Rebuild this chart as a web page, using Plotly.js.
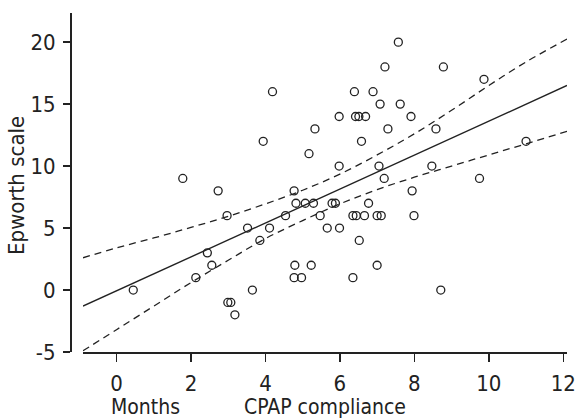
<!DOCTYPE html>
<html><head><meta charset="utf-8">
<script src="https://cdn.plot.ly/plotly-3.0.1.min.js"></script>
<style>html,body{margin:0;padding:0;background:#fff}#chart{width:578px;height:419px}</style>
</head><body><div id="chart"></div>
<script>
// Scatter data: CPAP compliance (months) vs Epworth scale
const complianceMonths = [0.45,1.78,2.13,2.44,2.56,2.73,2.97,2.99,3.07,3.18,
  3.52,3.65,3.85,3.94,4.11,4.19,4.54,4.77,4.79,4.77,
  4.82,4.97,5.07,5.17,5.23,5.29,5.33,5.47,5.66,5.79,
  5.88,5.98,5.98,5.99,6.35,6.44,6.35,6.39,6.42,6.51,
  6.52,6.58,6.66,6.69,6.77,6.89,7.0,7.11,7.0,7.05,
  7.08,7.19,7.21,7.29,7.57,7.62,7.91,7.94,7.99,8.47,
  8.58,8.71,8.78,9.75,9.87,11.0];
const epworthScore = [0,9,1,3,2,8,6,-1,-1,-2,
  5,0,4,12,5,16,6,8,2,1,
  7,1,7,11,2,7,13,6,5,7,
  7,10,14,5,6,6,1,16,14,14,
  4,12,6,14,7,16,6,6,2,10,
  15,9,18,13,20,15,14,8,6,10,
  13,0,18,9,17,12];

// Regression line and confidence band
const fitX = [-0.9, 12.1];
const fitY = [-1.3, 16.5];
const bandX = [-0.9, 0, 1, 2, 3, 4, 5, 6, 7, 8, 9, 10, 11, 12.1];
const bandUpper = [2.6, 3.4, 4.2, 5.05, 5.95, 6.95, 8.05, 9.35, 10.9, 12.6, 14.5, 16.5, 18.4, 20.25];
const bandLower = [-4.9, -3.2, -1.3, 0.6, 2.4, 4.15, 5.6, 6.95, 8.1, 9.1, 10.0, 10.9, 11.8, 12.8];

// Axis ticks and labels
const xTickVals = [0, 2, 4, 6, 8, 10, 12];
const xTickText = ["0", "2", "4", "6", "8", "10", "12"];
const yTickVals = [-5, 0, 5, 10, 15, 20];
const yTickText = ["-5", "0", "5", "10", "15", "20"];
const xTitle = "CPAP compliance";
const xUnitLabel = "Months";
const yTitle = "Epworth scale";

const ink = "#222";
const fontFam = "'DejaVu Sans Condensed', 'Liberation Sans Narrow', sans-serif";

const traces = [
  {x: bandX, y: bandUpper, type: "scatter", mode: "lines",
   line: {color: ink, width: 1.3, dash: "7px,5px", shape: "spline"}, hoverinfo: "skip"},
  {x: bandX, y: bandLower, type: "scatter", mode: "lines",
   line: {color: ink, width: 1.3, dash: "7px,5px", shape: "spline"}, hoverinfo: "skip"},
  {x: fitX, y: fitY, type: "scatter", mode: "lines",
   line: {color: ink, width: 1.4}},
  {x: complianceMonths, y: epworthScore, type: "scatter", mode: "markers",
   marker: {symbol: "circle-open", size: 8, color: ink, line: {width: 1.3, color: ink}}}
];

const layout = {
  width: 578, height: 419,
  margin: {l: 70, r: 11, t: 13, b: 67, pad: 0},
  paper_bgcolor: "#fff", plot_bgcolor: "#fff",
  showlegend: false,
  font: {family: fontFam, color: ink, size: 22},
  xaxis: {
    domain: [13/497, 1], range: [-0.9, 12.1],
    showline: true, linecolor: ink, linewidth: 1.5,
    ticks: "outside", ticklen: 8, tickwidth: 1.5, tickcolor: ink,
    tickvals: xTickVals, ticktext: xTickText,
    tickfont: {family: fontFam, size: 22, color: ink},
    ticklabelstandoff: 3,
    showgrid: false, zeroline: false,
    title: {text: xTitle, font: {family: fontFam, size: 21, color: ink}, standoff: 4}
  },
  yaxis: {
    anchor: "free", position: 0,
    range: [-5, 22.35],
    showline: true, linecolor: ink, linewidth: 1.5,
    ticks: "outside", ticklen: 7, tickwidth: 1.5, tickcolor: ink,
    tickvals: yTickVals, ticktext: yTickText,
    tickfont: {family: fontFam, size: 22, color: ink},
    ticklabelstandoff: 3,
    showgrid: false, zeroline: false
  },
  annotations: [
    {text: xUnitLabel, xref: "paper", yref: "paper", x: (145 - 70) / 497, y: -0.163,
     xanchor: "center", yanchor: "middle", showarrow: false,
     font: {family: fontFam, size: 21, color: ink}},
    {text: yTitle, xref: "paper", yref: "paper", x: (17 - 70) / 497, y: 0.49,
     xanchor: "center", yanchor: "middle", textangle: -90, showarrow: false,
     font: {family: fontFam, size: 22, color: ink}}
  ]
};

Plotly.newPlot("chart", traces, layout, {displayModeBar: false, staticPlot: true});
</script>
</body></html>
